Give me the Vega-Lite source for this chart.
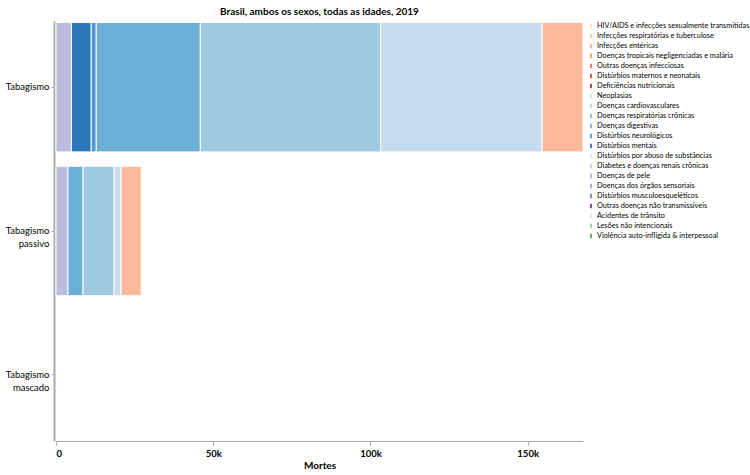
{
  "$schema": "https://vega.github.io/schema/vega-lite/v6.json",
  "width": 527,
  "height": 420,
  "autosize": {"type": "none"},
  "padding": {"left": 56, "top": 21, "right": 167, "bottom": 34},
  "background": "white",
  "title": {"text": "Brasil, ambos os sexos, todas as idades, 2019", "font": "Lato", "fontSize": 10, "fontWeight": "bold", "anchor": "middle", "offset": 4, "color": "#000"},
  "config": {"view": {"stroke": null}, "font": "Lato"},
  "data": {"values": [
    {"risco": "Tabagismo", "causa": "Diabetes e doenças renais crônicas", "mortes": 4900, "ord": 14},
    {"risco": "Tabagismo", "causa": "Distúrbios neurológicos", "mortes": 6300, "ord": 10},
    {"risco": "Tabagismo", "causa": "Doenças digestivas", "mortes": 1600, "ord": 9},
    {"risco": "Tabagismo", "causa": "Doenças respiratórias crônicas", "mortes": 33100, "ord": 8},
    {"risco": "Tabagismo", "causa": "Doenças cardiovasculares", "mortes": 57300, "ord": 7},
    {"risco": "Tabagismo", "causa": "Neoplasias", "mortes": 51400, "ord": 6},
    {"risco": "Tabagismo", "causa": "Infecções respiratórias e tuberculose", "mortes": 13000, "ord": 1},
    {"risco": "Tabagismo passivo", "causa": "Diabetes e doenças renais crônicas", "mortes": 3800, "ord": 14},
    {"risco": "Tabagismo passivo", "causa": "Doenças respiratórias crônicas", "mortes": 4800, "ord": 8},
    {"risco": "Tabagismo passivo", "causa": "Doenças cardiovasculares", "mortes": 9900, "ord": 7},
    {"risco": "Tabagismo passivo", "causa": "Neoplasias", "mortes": 2200, "ord": 6},
    {"risco": "Tabagismo passivo", "causa": "Infecções respiratórias e tuberculose", "mortes": 6400, "ord": 1}
  ]},
  "mark": {"type": "bar", "stroke": "white", "strokeWidth": 1},
  "encoding": {
    "y": {"field": "risco", "type": "nominal", "title": null,
      "scale": {"domain": ["Tabagismo", "Tabagismo passivo", "Tabagismo mascado"], "paddingInner": 0.1, "paddingOuter": 0.01},
      "axis": {"labelExpr": "split(datum.label, ' ')", "labelFontSize": 9.5, "labelColor": "#000", "domainColor": "#aaa", "domainWidth": 2, "tickColor": "#aaa", "tickSize": 3, "offset": 2, "labelPadding": 2, "labelLineHeight": 13}},
    "x": {"field": "mortes", "type": "quantitative", "title": "Mortes", "stack": "zero",
      "scale": {"nice": false},
      "axis": {"values": [0, 50000, 100000, 150000], "labelExpr": "datum.value == 0 ? '0' : format(datum.value / 1000, 'd') + 'k'", "grid": false, "labelFontSize": 9.5, "labelFontWeight": "bold", "labelColor": "#000", "titleFontSize": 10, "titleFontWeight": "bold", "titleColor": "#000", "domainColor": "#aaa", "tickColor": "#aaa", "tickSize": 4, "titlePadding": 3, "labelPadding": 3}},
    "order": {"field": "ord", "sort": "descending"},
    "color": {"field": "causa", "type": "nominal",
      "scale": {
        "domain": ["HIV/AIDS e infecções sexualmente transmitidas", "Infecções respiratórias e tuberculose", "Infecções entéricas", "Doenças tropicais negligenciadas e malária", "Outras doenças infecciosas", "Distúrbios maternos e neonatais", "Deficiências nutricionais", "Neoplasias", "Doenças cardiovasculares", "Doenças respiratórias crônicas", "Doenças digestivas", "Distúrbios neurológicos", "Distúrbios mentais", "Distúrbios por abuso de substâncias", "Diabetes e doenças renais crônicas", "Doenças de pele", "Doenças dos órgãos sensoriais", "Distúrbios musculoesqueléticos", "Outras doenças não transmissíveis", "Acidentes de trânsito", "Lesões não intencionais", "Violência auto-infligida & interpessoal"],
        "range": ["#fdd7c6", "#fbb99c", "#fc9a7a", "#f4775c", "#e34a3a", "#c52129", "#8f0a1c", "#c6dbef", "#9ecae1", "#6baed6", "#4f98cb", "#2a78b8", "#174e94", "#dadaeb", "#bcbddc", "#a7a3cd", "#8c87be", "#6e58a8", "#4a1486", "#c7e9c0", "#74c476", "#2b8a4a"]},
      "legend": {"title": null, "orient": "right", "offset": 3, "symbolType": "M-0.15,-0.5h0.3v1h-0.3z", "symbolSize": 90, "symbolStrokeWidth": 0, "labelFontSize": 7.3, "labelColor": "#000", "labelOffset": 1, "rowPadding": 1.0, "padding": 0, "labelLimit": 200}}
  }
}
